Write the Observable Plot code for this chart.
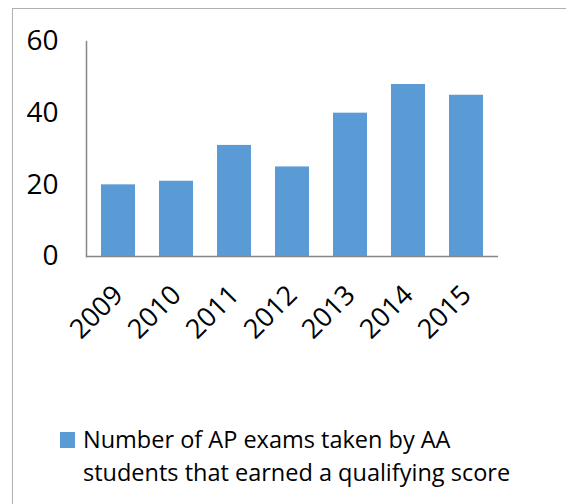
<!DOCTYPE html>
<html>
<head>
<meta charset="utf-8">
<script src="https://cdn.jsdelivr.net/npm/d3@7"></script>
<script src="https://cdn.jsdelivr.net/npm/@observablehq/plot@0.6"></script>
<style>
  html, body { margin: 0; padding: 0; background: #fff; }
  #wrap { position: relative; width: 566px; height: 504px; overflow: hidden; font-family: "Open Sans", Lato, sans-serif; }
  #border { position: absolute; left: 12px; top: 8px; width: 600px; height: 600px; border-left: 1.5px solid #b0b0b0; border-top: 1.5px solid #b0b0b0; }
  #chart { position: absolute; left: 0; top: 0; }
  #legend { position: absolute; left: 60px; top: 423px; display: flex; align-items: flex-start; color: #000; font-size: 23.5px; line-height: 33px; }
  #legend .sw { width: 15px; height: 16px; background: #5b9bd5; margin-top: 9px; margin-right: 8px; flex: none; }
</style>
</head>
<body>
<div id="wrap">
  <div id="border"></div>
  <div id="chart"></div>
  <div id="legend"><div class="sw"></div><div id="legend-text"></div></div>
</div>
<script>
const years = ["2009", "2010", "2011", "2012", "2013", "2014", "2015"];
const values = [20, 21, 31, 25, 40, 48, 45];
const yTicks = [0, 20, 40, 60];
const legendLines = ["Number of AP exams taken by AA", "students that earned a qualifying score"];

const data = years.map((y, i) => ({year: y, value: values[i]}));

const chart = Plot.plot({
  width: 566,
  height: 380,
  marginLeft: 86,
  marginRight: 68,
  marginTop: 41,
  marginBottom: 124,
  style: {fontFamily: "'Open Sans', Lato, sans-serif", background: "transparent", color: "#000"},
  x: {domain: years, paddingInner: 0.42, paddingOuter: 0.21, align: 0.5},
  y: {domain: [0, 60]},
  marks: [
    Plot.barY(data, {x: "year", y: "value", fill: "#5b9bd5"}),
    Plot.axisY({ticks: yTicks, tickSize: 0, tickPadding: 28, fontSize: 28, label: null}),
    Plot.axisX({tickSize: 0, tickRotate: -45, tickPadding: 34, fontSize: 27, label: null}),
    Plot.frame({anchor: "left", stroke: "#868686", strokeWidth: 1.5}),
    Plot.ruleY([0], {stroke: "#868686", strokeWidth: 1.5})
  ]
});
document.getElementById("chart").appendChild(chart);
document.getElementById("legend-text").innerHTML = legendLines.join("<br>");
</script>
</body>
</html>
